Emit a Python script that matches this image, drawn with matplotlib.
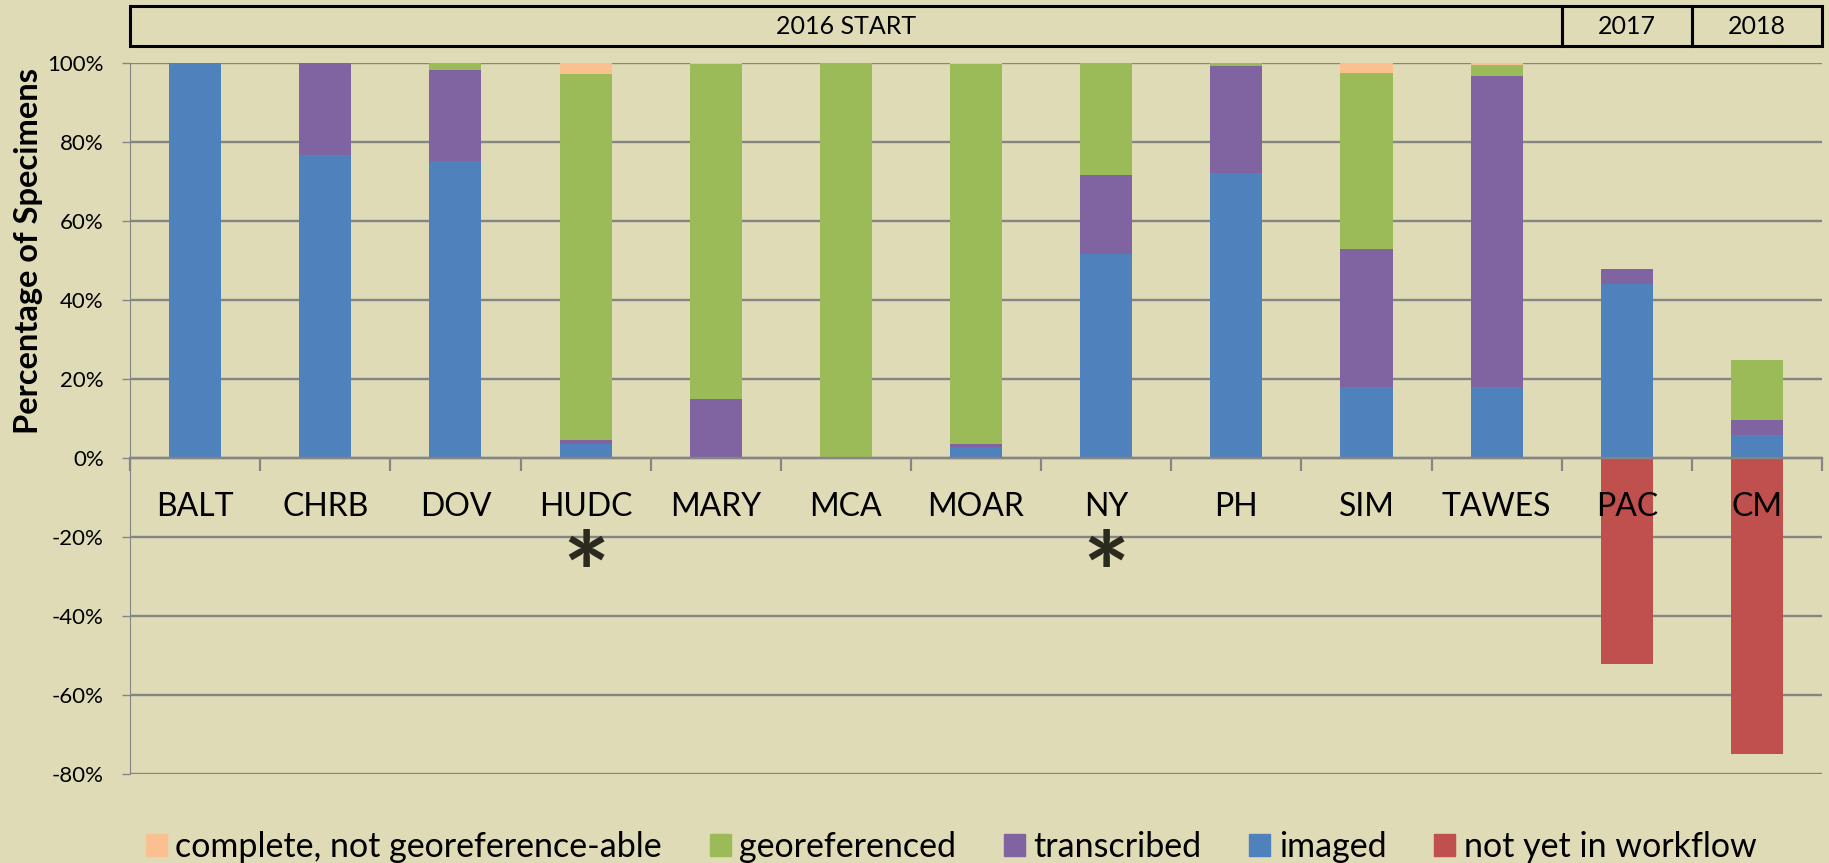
import numpy as np
import matplotlib
matplotlib.use("Agg")
import matplotlib.pyplot as plt
import matplotlib.transforms as mtransforms
from matplotlib.patches import Rectangle, Patch

plt.rcParams['font.family'] = ['Lato', 'DejaVu Sans']

# values, percent of specimens
sites = ["BALT", "CHRB", "DOV", "HUDC", "MARY", "MCA", "MOAR", "NY", "PH", "SIM", "TAWES", "PAC", "CM"]
imaged = [100, 76.7, 75.0, 3.5, 0, 0, 2.6, 51.7, 72.2, 17.9, 17.9, 43.9, 5.7]
transcribed = [0, 23.3, 23.2, 0.9, 14.8, 0, 0.9, 20.0, 27.0, 35.0, 78.8, 3.8, 3.9]
georeferenced = [0, 0, 1.8, 92.8, 84.8, 100, 96.1, 28.3, 0.8, 44.6, 2.8, 0, 15.1]
complete_nogeo = [0, 0, 0, 2.8, 0.4, 0, 0.4, 0, 0, 2.5, 0.5, 0, 0]
not_in_workflow = [0, 0, 0, 0, 0, 0, 0, 0, 0, 0, 0, -52.2, -75.1]
starred = ["HUDC", "NY"]

header_labels = ["2016 START", "2017", "2018"]
header_first = ["BALT", "PAC", "CM"]
header_last = ["TAWES", "PAC", "CM"]

bg = '#DFDBB7'
grid_c = '#858585'
col_complete = '#FAC090'
col_geo = '#9BBB59'
col_trans = '#8064A2'
col_img = '#4F81BD'
col_none = '#C0504D'

fig = plt.figure(figsize=(18.29, 8.63), dpi=100, facecolor=bg)
ax = fig.add_axes([0.0711, 0.1035, 0.9251, 0.8238])
ax.set_facecolor(bg)

x = np.arange(len(sites))
w = 0.4
b1 = np.array(imaged)
b2 = b1 + np.array(transcribed)
b3 = b2 + np.array(georeferenced)
ax.bar(x, imaged, w, color=col_img, zorder=3)
ax.bar(x, transcribed, w, bottom=b1, color=col_trans, zorder=3)
ax.bar(x, georeferenced, w, bottom=b2, color=col_geo, zorder=3)
ax.bar(x, complete_nogeo, w, bottom=b3, color=col_complete, zorder=3)
ax.bar(x, not_in_workflow, w, color=col_none, zorder=3)

ax.set_xlim(-0.5, len(sites) - 0.5)
ax.set_ylim(-80, 100)
ax.set_yticks(np.arange(-80, 101, 20))
ax.set_yticklabels([f"{v}%" for v in range(-80, 101, 20)], fontsize=16)
ax.yaxis.grid(True, color=grid_c, lw=1.7, zorder=1)
ax.tick_params(axis='y', length=6, color=grid_c, width=1, pad=13)

ax.spines['bottom'].set_position(('data', 0))
ax.spines['bottom'].set_color(grid_c)
ax.spines['bottom'].set_linewidth(1.7)
ax.spines['bottom'].set_zorder(4)
ax.spines['left'].set_color(grid_c)
ax.spines['left'].set_linewidth(0.8)
for s in ['top', 'right']:
    ax.spines[s].set_visible(False)

# category names go on top of the bars, so write them as text
ax.set_xticks(np.arange(-0.5, len(sites), 1))
ax.set_xticklabels([])
ax.tick_params(axis='x', length=9, color=grid_c, width=1.6)
for i, s in enumerate(sites):
    ax.text(i, -12.4, s, fontsize=23, ha='center', va='center', zorder=5)

fig.text(29 / 1829, 0.709, "Percentage of Specimens", rotation=90, fontsize=23.5,
         fontweight='bold', ha='center', va='center')

for s in starred:
    ax.text(sites.index(s), -31.5, "*", fontsize=80, fontweight='bold', color='#2B2A1E',
            ha='center', va='center')

# header boxes above the plot
trans = mtransforms.blended_transform_factory(ax.transData, ax.transAxes)
for lab, a, b in zip(header_labels, header_first, header_last):
    x0 = sites.index(a) - 0.5
    x1 = sites.index(b) + 0.5
    ax.add_patch(Rectangle((x0, 1.0235), x1 - x0, 0.0562, transform=trans, fill=False,
                           ec='black', lw=2.2, clip_on=False))
    ax.text((x0 + x1) / 2, 1.0516, lab, transform=trans, ha='center', va='center', fontsize=18)

handles = [Patch(color=col_complete, label="complete, not georeference-able"),
           Patch(color=col_geo, label="georeferenced"),
           Patch(color=col_trans, label="transcribed"),
           Patch(color=col_img, label="imaged"),
           Patch(color=col_none, label="not yet in workflow")]
fig.legend(handles=handles, loc='lower center', bbox_to_anchor=(0.52, -0.035), ncol=5,
           frameon=False, fontsize=24.5, handlelength=0.62, handleheight=0.62,
           handletextpad=0.25, columnspacing=1.4)

fig.savefig("out.png", dpi=100, facecolor=bg)
